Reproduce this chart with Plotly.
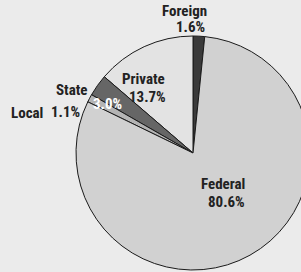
import plotly.graph_objects as go

labels = ["Foreign", "Private", "State", "Local", "Federal"]
values = [1.6, 13.7, 3.0, 1.1, 80.6]
colors = ["#3a3a3a", "#e3e3e3", "#666666", "#b4b4b4", "#d1d1d1"]

W, H = 310, 272
# label positions in pixels (name line, value line)
name_pos = {"Foreign": (184, 11), "Private": (143, 79), "State": (72, 90),
            "Local": (27, 113), "Federal": (223, 184)}
val_pos = {"Foreign": (190, 27), "Private": (147, 97), "State": (107, 104),
           "Local": (65, 112), "Federal": (226, 202)}
val_color = {"State": "white"}

fig = go.Figure(go.Pie(
    labels=labels, values=values, sort=False, direction="counterclockwise",
    rotation=0, textinfo="none", hoverinfo="label+percent",
    marker=dict(colors=colors, line=dict(color="#1a1a1a", width=1)),
    domain=dict(x=[76 / W, 1.0], y=[1 - 270 / H, 1 - 36 / H]),
    showlegend=False,
))

font = "Liberation Sans Narrow, Roboto Condensed, Archivo Narrow, Fira Sans Condensed, DejaVu Sans Condensed, sans-serif"
anns = []
for lab, v in zip(labels, values):
    x, y = name_pos[lab]
    anns.append(dict(x=x / W, y=1 - y / H, xref="paper", yref="paper", text=f"<b>{lab}</b>",
                     showarrow=False, font=dict(family=font, size=15, color="#222222"),
                     xanchor="center", yanchor="middle"))
    x, y = val_pos[lab]
    anns.append(dict(x=x / W, y=1 - y / H, xref="paper", yref="paper", text=f"<b>{v:.1f}%</b>",
                     showarrow=False, font=dict(family=font, size=15, color=val_color.get(lab, "#222222")),
                     xanchor="center", yanchor="middle"))

fig.update_layout(width=W, height=H, margin=dict(l=0, r=0, t=0, b=0),
                  paper_bgcolor="#ebebeb", plot_bgcolor="#ebebeb", annotations=anns)

fig.write_html("out.html", config={"displayModeBar": False},
               post_script="document.body.style.margin='0';document.body.style.overflow='hidden';")
